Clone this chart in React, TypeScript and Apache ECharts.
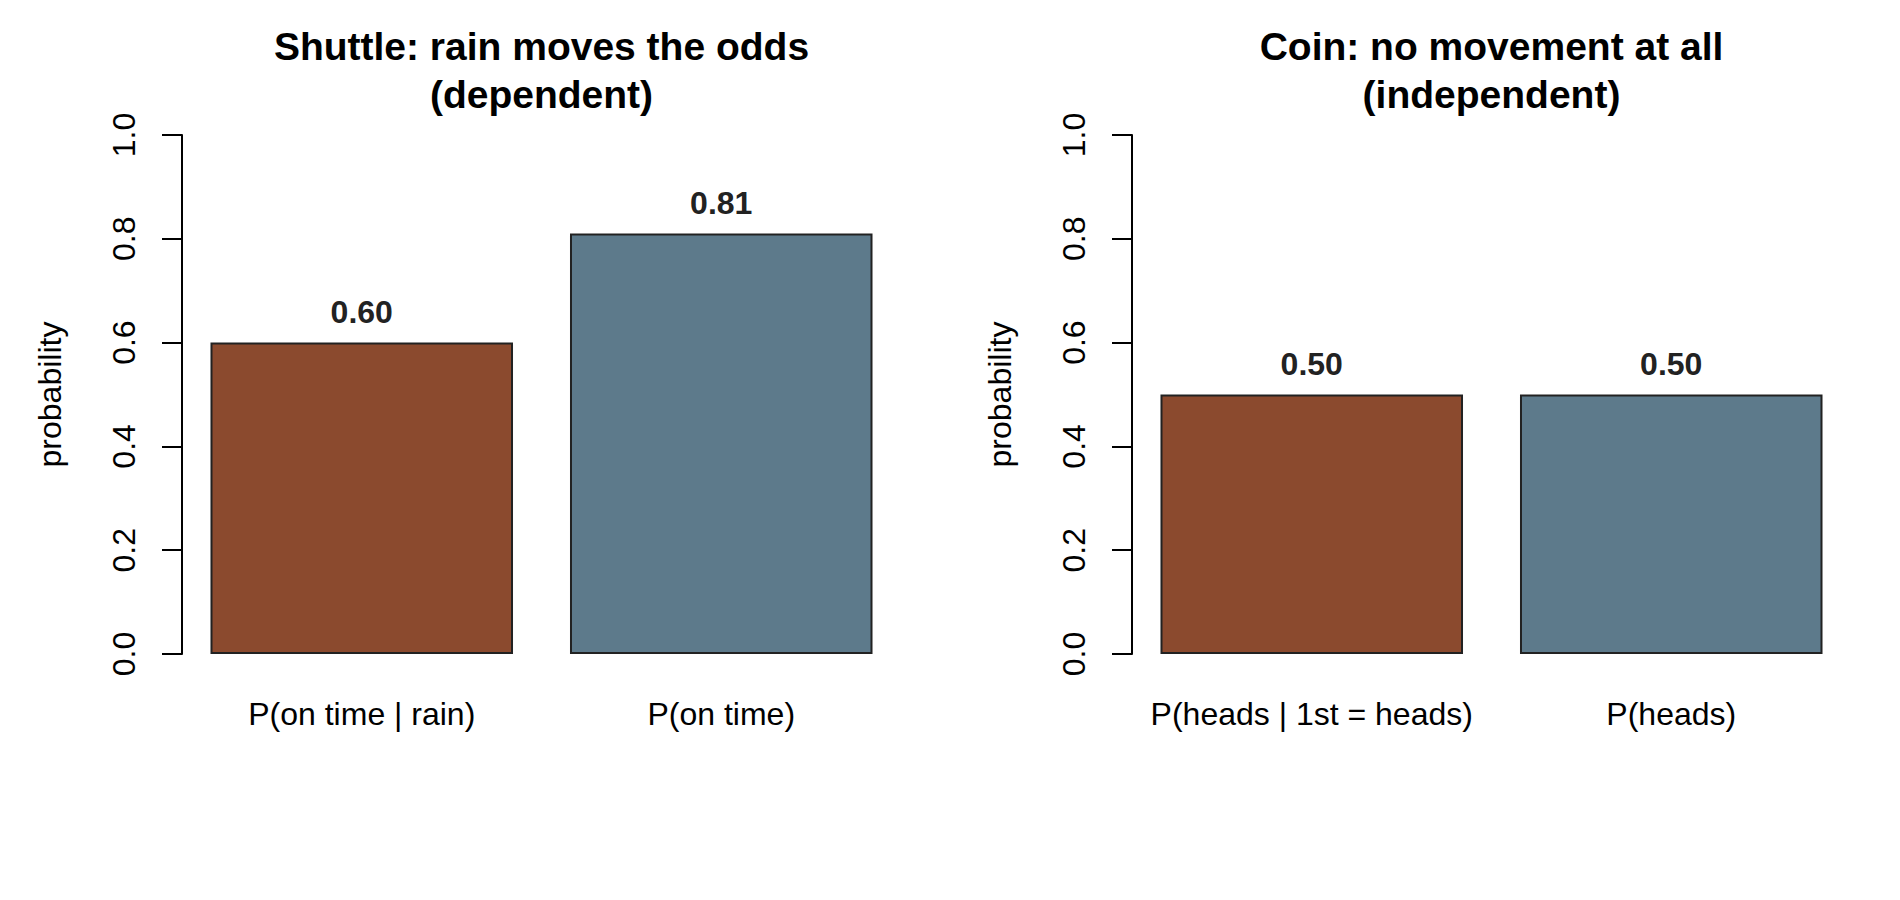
import React, { useRef, useEffect } from "react";
import * as echarts from "echarts";

const shuttleCats = ["P(on time | rain)", "P(on time)"];
const shuttleVals = [0.6, 0.81];
const coinCats = ["P(heads | 1st = heads)", "P(heads)"];
const coinVals = [0.5, 0.5];
const titles = [
  "Shuttle: rain moves the odds\n(dependent)",
  "Coin: no movement at all\n(independent)",
];
const barColors = ["#8B4A2E", "#5D7A8B"];
const yName = "probability";

const FONT = "'Liberation Sans', Arial, sans-serif";

const App = function () {
  const chart = useRef<HTMLDivElement>(null);
  useEffect(() => {
    if (!chart.current) return;
    const myChart = echarts.init(chart.current, null, { renderer: "svg" });
    const panels = [
      { cats: shuttleCats, vals: shuttleVals, left: 182 },
      { cats: coinCats, vals: coinVals, left: 1132 },
    ];
    const plotW = 719;
    const option = {
      animation: false,
      backgroundColor: "#ffffff",
      title: panels.map((p, i) => ({
        text: titles[i],
        left: p.left + plotW / 2,
        top: 22,
        textAlign: "center",
        padding: 0,
        textStyle: {
          fontFamily: FONT,
          fontSize: 39,
          fontWeight: "bold",
          lineHeight: 48,
          color: "#000",
        },
      })),
      grid: panels.map((p) => ({
        left: p.left,
        width: plotW,
        top: 135,
        height: 519,
      })),
      xAxis: panels.map((p, i) => ({
        type: "category",
        gridIndex: i,
        data: p.cats,
        axisLine: { show: false },
        axisTick: { show: false },
        axisLabel: {
          margin: 44,
          color: "#000",
          fontFamily: FONT,
          fontSize: 32,
          interval: 0,
        },
      })),
      yAxis: panels.map((p, i) => ({
        type: "value",
        gridIndex: i,
        min: 0,
        max: 1,
        interval: 0.2,
        name: yName,
        nameLocation: "middle",
        nameRotate: 90,
        nameGap: 116,
        nameTextStyle: { fontFamily: FONT, fontSize: 32, color: "#000" },
        splitLine: { show: false },
        axisLine: { show: true, lineStyle: { color: "#000", width: 2 } },
        axisTick: { show: true, length: 20, lineStyle: { color: "#000", width: 2 } },
        axisLabel: {
          rotate: 90,
          margin: 42,
          color: "#000",
          fontFamily: FONT,
          fontSize: 32,
          formatter: (v: number) => v.toFixed(1),
        },
      })),
      series: panels.map((p, i) => ({
        type: "bar",
        xAxisIndex: i,
        yAxisIndex: i,
        barCategoryGap: "15.85%",
        data: p.vals.map((v, j) => ({
          value: v,
          itemStyle: { color: barColors[j] },
        })),
        itemStyle: { borderColor: "#222", borderWidth: 2 },
        label: {
          show: true,
          position: "top",
          distance: 15,
          fontFamily: FONT,
          fontSize: 32,
          fontWeight: "bold",
          color: "#222",
          formatter: (d: any) => Number(d.value).toFixed(2),
        },
      })),
    };
    myChart.setOption(option as any);
    return () => {
      myChart.dispose();
    };
  }, []);
  return (
    <div
      ref={chart}
      style={{ position: "fixed", left: 0, top: 0, width: 1900, height: 900 }}
    ></div>
  );
};

export default App;
